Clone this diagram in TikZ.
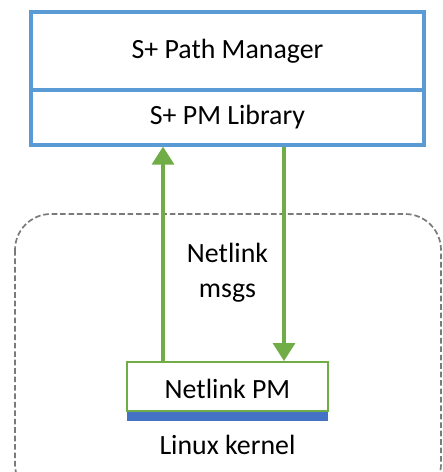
\documentclass[tikz,border=0pt]{standalone}
\usepackage{fontspec}
\setmainfont{Carlito}
\usepackage{xcolor}
\usetikzlibrary{arrows.meta,positioning,calc}

\definecolor{boxblue}{HTML}{5B9BD5}
\definecolor{barblue}{HTML}{4472C4}
\definecolor{msggreen}{HTML}{70AD47}
\definecolor{kernelgray}{HTML}{7A7A7A}

\begin{document}
\begin{tikzpicture}[
    x=0.025cm, y=-0.025cm,
    font=\fontsize{19.8}{22}\selectfont,
    top_box/.style={draw=boxblue, line width=2.3pt, minimum width=9.825cm, inner sep=0pt},
    kernel_box/.style={draw=msggreen, line width=1.4pt, fill=white, minimum width=5.025cm, minimum height=1.225cm, inner sep=0pt},
    msg_edge/.style={draw=msggreen, line width=2.4pt, -{Triangle[length=0.45cm, width=0.55cm]}},
    kernel_area/.style={draw=kernelgray, line width=1.2pt, dash pattern=on 4pt off 2pt, rounded corners=0.9cm}
]
    \useasboundingbox (0,0) rectangle (442,472);
    \clip (0,0) rectangle (442,472);

    % --- Kernel area ---
    \draw[kernel_area] (15,214) rectangle (441,500);

    % --- Nodes ---
    \node[top_box, minimum height=1.95cm] (pm) at (227.5,51) {S+ Path Manager};
    \node[top_box, minimum height=1.375cm] (lib) at (227.5,117.5) {S+ PM Library};

    \node[kernel_box] (nlpm) at (227.5,386.5) {};
    \node at (227.5,389) {Netlink PM};
    \node[fill=barblue, minimum width=5.025cm, minimum height=0.225cm, inner sep=0pt,
          below=0pt of nlpm] (bar) {};

    \node[align=center, font=\fontsize{19.8}{24.8}\selectfont] (msgs) at (227.5,273) {Netlink\\msgs};
    \node[below=0.22cm of bar] (kern) {Linux kernel};

    % --- Edges ---
    \coordinate (up) at (163,0);
    \coordinate (down) at (284,0);
    \draw[msg_edge] (nlpm.north -| up) -- (lib.south -| up);
    \draw[msg_edge] (lib.south -| down) -- (nlpm.north -| down);

\end{tikzpicture}
\end{document}
